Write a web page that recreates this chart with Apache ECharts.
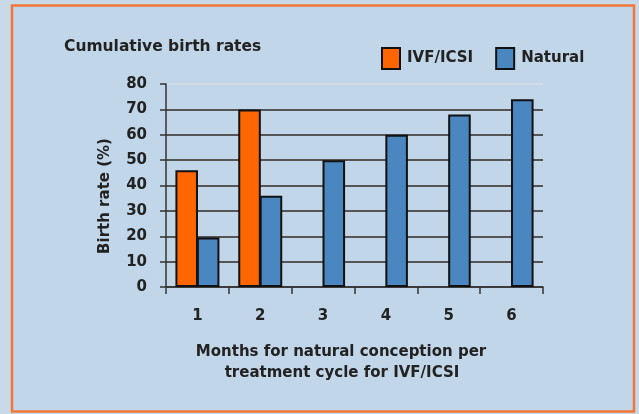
<!DOCTYPE html>
<html>
<head>
<meta charset="utf-8">
<script src="https://cdn.jsdelivr.net/npm/echarts@6/dist/echarts.min.js"></script>
<style>html,body{margin:0;padding:0;background:#c9d9e8;}#c{width:639px;height:414px;}</style>
</head>
<body>
<div id="c"></div>
<script>
const categories = ['1', '2', '3', '4', '5', '6'];
const ivfValues = [46, 70, null, null, null, null];
const naturalValues = [19.5, 36, 50, 60, 68, 74];
const seriesNames = ['IVF/ICSI', 'Natural'];
const titleText = 'Cumulative birth rates';
const yAxisName = 'Birth rate (%)';
const xAxisNameLines = ['Months for natural conception per', 'treatment cycle for IVF/ICSI'];

const FONT = '"DejaVu Sans", Verdana, sans-serif';
const TXT = '#222';
const chart = echarts.init(document.getElementById('c'), null, {renderer: 'canvas'});
chart.setOption({
  backgroundColor: '#c9d9e8',
  animation: false,
  graphic: [
    {type: 'rect', z: -10, shape: {x: 12, y: 5.5, width: 622, height: 406},
     style: {fill: '#c1d6e8', stroke: '#f2783a', lineWidth: 2.5}},
    {type: 'text', left: 64, top: 39, style: {text: titleText, font: 'bold 15.5px ' + FONT, fill: TXT}},
    {type: 'text', x: 105, y: 196, rotation: Math.PI / 2,
     style: {text: yAxisName, font: 'bold 15px ' + FONT, fill: TXT, align: 'center', verticalAlign: 'middle'}},
    {type: 'text', x: 341, y: 352,
     style: {text: xAxisNameLines[0], font: 'bold 15px ' + FONT, fill: TXT, align: 'center', verticalAlign: 'middle'}},
    {type: 'text', x: 342, y: 373,
     style: {text: xAxisNameLines[1], font: 'bold 15px ' + FONT, fill: TXT, align: 'center', verticalAlign: 'middle'}}
  ],
  legend: {
    left: 376, top: 42,
    itemWidth: 18, itemHeight: 21, itemGap: 22,
    icon: 'rect',
    data: seriesNames,
    itemStyle: {borderColor: '#111', borderWidth: 2},
    textStyle: {fontFamily: FONT, fontWeight: 'bold', fontSize: 15, color: TXT, padding: [0, 0, 0, 2]}
  },
  grid: {left: 166, right: 96, top: 84, bottom: 127},
  xAxis: {
    type: 'category',
    data: categories,
    axisLine: {lineStyle: {color: '#333', width: 1.5}},
    axisTick: {show: true, length: 7, lineStyle: {color: '#333', width: 1.5}},
    axisLabel: {margin: 22, fontFamily: FONT, fontWeight: 'bold', fontSize: 15, color: TXT},
    splitLine: {show: false}
  },
  yAxis: {
    type: 'value', min: 0, max: 80, interval: 10,
    axisLine: {show: true, lineStyle: {color: '#333', width: 1.5}},
    axisTick: {show: true, length: 6, lineStyle: {color: '#333', width: 1.5}},
    axisLabel: {margin: 19, fontFamily: FONT, fontWeight: 'bold', fontSize: 15, color: TXT},
    splitLine: {show: true, lineStyle: {width: 2,
      color: ['#555', '#555', '#555', '#555', '#555', '#555', '#555', '#555', '#cfdbe6']}}
  },
  series: [
    {name: seriesNames[0], type: 'bar', data: ivfValues, barGap: '-5%', barCategoryGap: '30%',
     itemStyle: {color: '#ff6600', borderColor: '#111', borderWidth: 2}},
    {name: seriesNames[1], type: 'bar', data: naturalValues, barGap: '-5%', barCategoryGap: '30%',
     itemStyle: {color: '#4a87c0', borderColor: '#111', borderWidth: 2}}
  ]
});
</script>
</body>
</html>
